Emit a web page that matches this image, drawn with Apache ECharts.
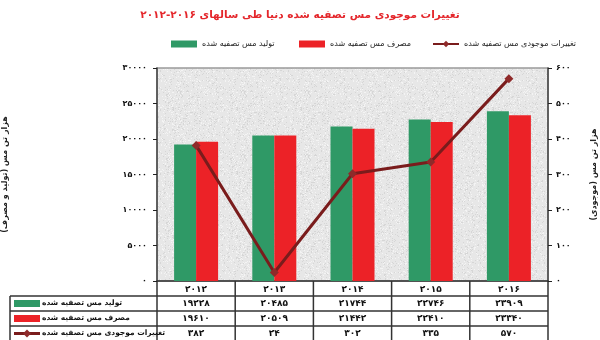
<!DOCTYPE html>
<html>
<head>
<meta charset="utf-8">
<script src="https://cdn.jsdelivr.net/npm/echarts@6/dist/echarts.min.js"></script>
<style>html,body{margin:0;padding:0;background:#fff}#c{width:600px;height:340px}</style>
</head>
<body>
<div id="c"></div>
<script>
const categories = ['2012', '2013', '2014', '2015', '2016'];
const production = [19228, 20485, 21744, 22746, 23909];
const consumption = [19610, 20509, 21442, 22410, 23340];
const stockChange = [382, 24, 302, 335, 570];
const seriesNames = ['تولید مس تصفیه شده', 'مصرف مس تصفیه شده', 'تغییرات موجودی مس تصفیه شده'];
const titleText = 'تغییرات موجودی مس تصفیه شده دنیا طی سالهای ۲۰۱۶-۲۰۱۲';
const leftAxisName = 'هزار تن مس (تولید و مصرف)';
const rightAxisName = 'هزار تن مس (موجودی)';

const FONT = '"DejaVu Sans", sans-serif';
const GREEN = '#2f9966', RED = '#ec2227', LINE = '#7a1c1c', MARK = '#8f2a2a';
const toFa = s => String(s).replace(/\d/g, d => '۰۱۲۳۴۵۶۷۸۹'[d]);

// speckled background texture (decoration only)
function makeTexture() {
  const c = document.createElement('canvas');
  c.width = 64; c.height = 64;
  const g = c.getContext('2d');
  g.fillStyle = '#e7e7e7'; g.fillRect(0, 0, 64, 64);
  let s = 12345;
  const next = () => { s = (s * 1103515245 + 12345) & 0x7fffffff; return s / 0x7fffffff; };
  for (let i = 0; i < 900; i++) {
    const x = Math.floor(next() * 64), y = Math.floor(next() * 64);
    g.fillStyle = next() < 0.5 ? '#d6d6d6' : '#f4f4f4';
    g.fillRect(x, y, 1, 1);
  }
  return c;
}

const chart = echarts.init(document.getElementById('c'), null, {renderer: 'canvas'});
const GL = 157, GR = 52, GT = 68, GB = 59;

const option = {
  animation: false,
  textStyle: {fontFamily: FONT},
  title: {
    text: titleText, left: 'center', top: 5,
    textStyle: {fontFamily: FONT, fontSize: 10.5, fontWeight: 'bold', color: '#e4262b'}
  },
  legend: [
    {data: [seriesNames[0]], left: 166, top: 35, icon: 'rect', itemWidth: 26, itemHeight: 7,
     textStyle: {fontFamily: FONT, fontSize: 8, color: '#222'}},
    {data: [seriesNames[1]], left: 294, top: 35, icon: 'rect', itemWidth: 26, itemHeight: 7,
     textStyle: {fontFamily: FONT, fontSize: 8, color: '#222'}},
    {data: [seriesNames[2]], left: 427, top: 35, itemWidth: 26, itemHeight: 8,
     textStyle: {fontFamily: FONT, fontSize: 8, color: '#222'}}
  ],
  grid: {
    left: GL, right: GR, top: GT, bottom: GB, show: true,
    outerBoundsMode: 'none', containLabel: false,
    backgroundColor: {image: makeTexture(), repeat: 'repeat'},
    borderColor: '#9a9a9a', borderWidth: 1.5
  },
  xAxis: {
    type: 'category', data: categories,
    axisLine: {lineStyle: {color: '#333', width: 1.5}},
    axisTick: {show: false},
    axisLabel: {margin: 4, fontSize: 9, fontWeight: 'bold', color: '#111', formatter: v => toFa(v)}
  },
  yAxis: [
    {
      type: 'value', min: 0, max: 30000, interval: 5000,
      name: leftAxisName, nameLocation: 'middle', nameGap: 148, nameRotate: 90,
      nameTextStyle: {fontFamily: FONT, fontSize: 8, fontWeight: 'bold', color: '#222'},
      axisLine: {show: true, lineStyle: {color: '#444', width: 1.5}},
      axisTick: {show: true, length: 4, lineStyle: {color: '#222'}},
      splitLine: {show: false},
      axisLabel: {margin: 10, fontSize: 8, fontWeight: 'bold', color: '#111', formatter: v => toFa(v)}
    },
    {
      type: 'value', min: 0, max: 600, interval: 100, position: 'right',
      name: rightAxisName, nameLocation: 'middle', nameGap: 42, nameRotate: 90,
      nameTextStyle: {fontFamily: FONT, fontSize: 8, fontWeight: 'bold', color: '#222'},
      axisLine: {show: true, lineStyle: {color: '#444', width: 1.5}},
      axisTick: {show: true, length: 4, lineStyle: {color: '#222'}},
      splitLine: {show: false},
      axisLabel: {margin: 8, fontSize: 8, fontWeight: 'bold', color: '#111', formatter: v => toFa(v)}
    }
  ],
  series: [
    {name: seriesNames[0], type: 'bar', data: production, barWidth: 22, barGap: '0%',
     itemStyle: {color: GREEN}},
    {name: seriesNames[1], type: 'bar', data: consumption, barWidth: 22,
     itemStyle: {color: RED}},
    {name: seriesNames[2], type: 'line', yAxisIndex: 1, data: stockChange,
     symbol: 'diamond', symbolSize: 9, z: 5,
     lineStyle: {color: LINE, width: 3}, itemStyle: {color: MARK}}
  ]
};
chart.setOption(option);

// data table under the chart, columns aligned to the category axis
function buildTable() {
  const centers = categories.map(c => chart.convertToPixel({xAxisIndex: 0}, c));
  const band = centers.length > 1 ? centers[1] - centers[0] : 78;
  const edges = centers.map(c => c - band / 2).concat([centers[centers.length - 1] + band / 2]);
  const rowTop = [296, 311, 326, 341];
  const x0 = 10, xe = edges[edges.length - 1];
  const stroke = {stroke: '#333', lineWidth: 1.5};
  const els = [];
  rowTop.forEach(y => els.push({type: 'line', shape: {x1: x0, y1: y, x2: xe, y2: y}, style: stroke}));
  els.push({type: 'line', shape: {x1: x0, y1: 296, x2: x0, y2: 341}, style: stroke});
  edges.forEach(x => els.push({type: 'line', shape: {x1: x, y1: 281, x2: x, y2: 341}, style: stroke}));
  const rows = [production, consumption, stockChange];
  rows.forEach((arr, r) => {
    const yc = rowTop[r] + 7.5;
    arr.forEach((v, i) => els.push({type: 'text', x: centers[i], y: yc,
      style: {text: toFa(v), fill: '#111', font: 'bold 9px ' + FONT, align: 'center', verticalAlign: 'middle'}}));
    if (r < 2) {
      els.push({type: 'rect', shape: {x: 14, y: yc - 3.5, width: 26, height: 7}, style: {fill: r === 0 ? GREEN : RED}});
    } else {
      els.push({type: 'line', shape: {x1: 14, y1: yc, x2: 40, y2: yc}, style: {stroke: LINE, lineWidth: 3}});
      els.push({type: 'polygon', shape: {points: [[27, yc - 4], [31, yc], [27, yc + 4], [23, yc]]}, style: {fill: MARK}});
    }
    els.push({type: 'text', x: 42, y: yc,
      style: {text: seriesNames[r], fill: '#111', font: 'bold 7.5px ' + FONT, align: 'left', verticalAlign: 'middle'}});
  });
  chart.setOption({graphic: els});
}
buildTable();
</script>
</body>
</html>
